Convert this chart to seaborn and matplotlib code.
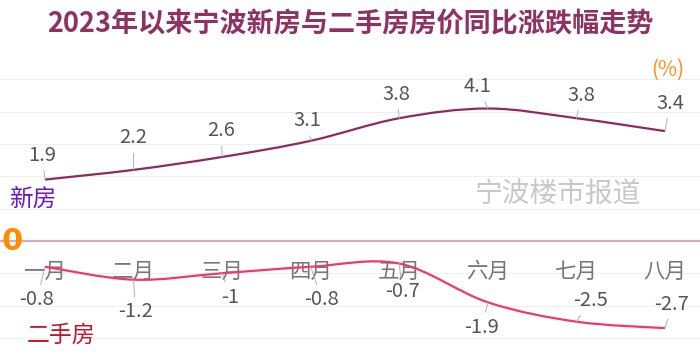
import numpy as np
import matplotlib.pyplot as plt
import seaborn as sns
from matplotlib.path import Path
from matplotlib.patches import PathPatch

months = ["一月", "二月", "三月", "四月", "五月", "六月", "七月", "八月"]
new_home = [1.9, 2.2, 2.6, 3.1, 3.8, 4.1, 3.8, 3.4]
resale = [-0.8, -1.2, -1.0, -0.8, -0.7, -1.9, -2.5, -2.7]
new_labels = ["1.9", "2.2", "2.6", "3.1", "3.8", "4.1", "3.8", "3.4"]
resale_labels = ["-0.8", "-1.2", "-1", "-0.8", "-0.7", "-1.9", "-2.5", "-2.7"]

# label offsets (pixels) from each point
new_off = [(-3, 24), (0, 32), (-1, 26), (-3, 20), (-3, 24), (-10, 22), (5, 23), (5, 28)]
resale_off = [(-8, -33), (2, -32), (8, -24), (11, -33), (3, -28), (-6, -25), (14, 21), (7, 24)]

sns.set_theme(style="whitegrid")
plt.rcParams['font.family'] = ['Noto Sans CJK SC', 'DejaVu Sans']

fig = plt.figure(figsize=(7, 3.64), dpi=100)
ax = fig.add_axes([0, 0, 1, (364 - 62) / 364])
ax.set_xlim(-0.508, 7.395)
ax.set_ylim(-3.81, 5.54)
ax.set_yticks([-3, -2, -1, 1, 2, 3, 4, 5])
ax.set_xticks([])
ax.tick_params(labelleft=False, left=False)
ax.grid(axis='y', color='#efefef', lw=0.8)
ax.grid(axis='x', visible=False)
sns.despine(ax=ax, left=True, bottom=True)
ax.axhline(0, color='#d6a9bf', lw=1.6, zorder=2)


def smooth_path(ys):
    # catmull-rom -> cubic bezier through the data points
    xs = np.arange(len(ys), dtype=float)
    pts = np.column_stack([xs, ys])
    verts = [pts[0]]
    codes = [Path.MOVETO]
    n = len(pts)
    for i in range(n - 1):
        p0 = pts[max(i - 1, 0)]
        p1 = pts[i]
        p2 = pts[i + 1]
        p3 = pts[min(i + 2, n - 1)]
        c1 = p1 + (p2 - p0) / 6
        c2 = p2 - (p3 - p1) / 6
        verts += [c1, c2, p2]
        codes += [Path.CURVE4] * 3
    return Path(verts, codes)


ax.add_patch(PathPatch(smooth_path(new_home), fc='none', ec='#8e2a5e', lw=1.6, zorder=4))
ax.add_patch(PathPatch(smooth_path(resale), fc='none', ec='#f0386b', lw=1.6, zorder=4))

for i, m in enumerate(months):
    ax.text(i, -0.96, m, ha='center', va='center', fontsize=15.5, color='#777777', zorder=3)

lead = dict(arrowstyle='-', color='#b0b0b0', lw=0.7, shrinkA=1, shrinkB=0)
for i, (v, t) in enumerate(zip(new_home, new_labels)):
    ax.annotate(t, xy=(i, v), xytext=new_off[i], textcoords='offset pixels',
                ha='center', va='center', fontsize=14.5, color='#555555', arrowprops=lead, zorder=5)
for i, (v, t) in enumerate(zip(resale, resale_labels)):
    ax.annotate(t, xy=(i, v), xytext=resale_off[i], textcoords='offset pixels',
                ha='center', va='center', fontsize=14.5, color='#555555', arrowprops=lead, zorder=5)

W, H = 700, 364
fig.text(0.5, 1 - 24 / H, "2023年以来宁波新房与二手房房价同比涨跌幅走势",
         ha='center', va='center', fontsize=19.5, fontweight='bold', color='#8e3163')
fig.text(9 / W, 1 - 199 / H, "新房", ha='left', va='center', fontsize=17, color='#6b17c4')
fig.text(27 / W, 1 - 335 / H, "二手房", ha='left', va='center', fontsize=16.5, color='#c0152a')
fig.text(558 / W, 1 - 195 / H, "宁波楼市报道", ha='center', va='center', fontsize=20, color='#c8c8c8')
fig.text(668 / W, 1 - 70 / H, "(%)", ha='center', va='center', fontsize=15, color='#ff8c1a')
fig.text(12 / W, 1 - 241 / H, "0", ha='center', va='center', fontsize=22, fontweight='bold',
         color='#ff8c00', family=['DejaVu Sans'])

fig.savefig("out.png", dpi=100, facecolor='white')
